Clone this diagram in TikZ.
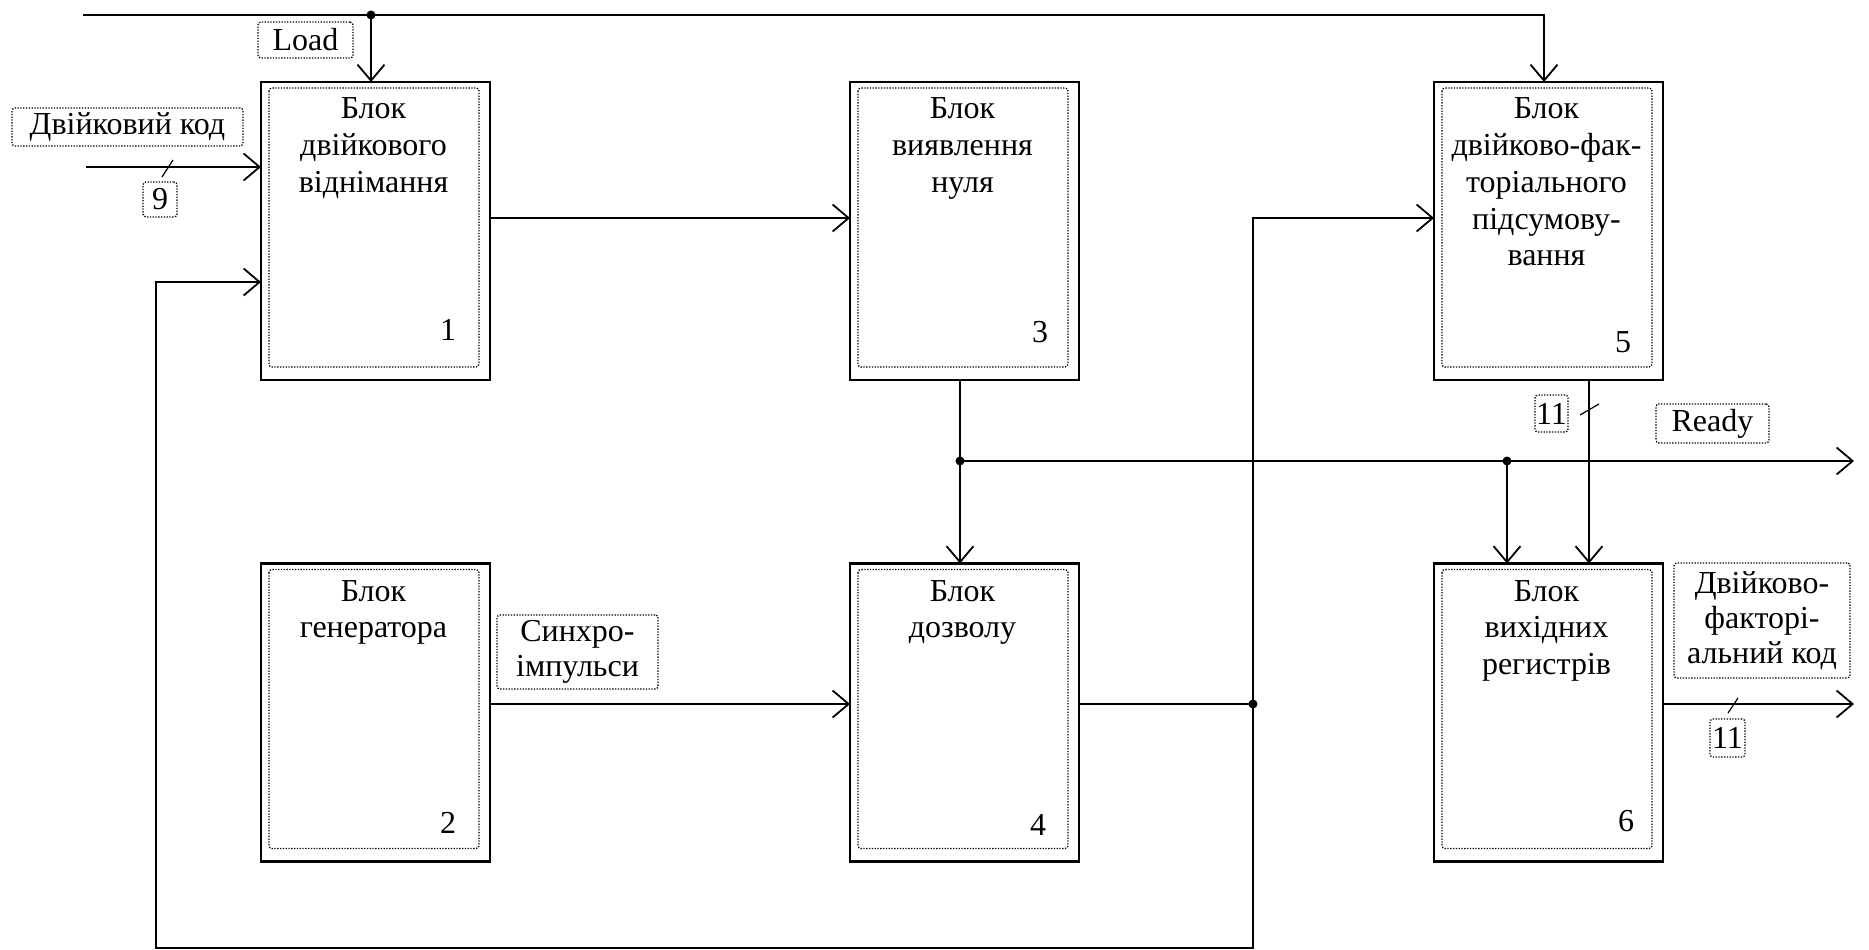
\documentclass[tikz,border=0pt]{standalone}
\usepackage{fontspec}
\setmainfont{Liberation Serif}
\usetikzlibrary{arrows.meta,calc}
\begin{document}
\begin{tikzpicture}[x=1pt,y=-1pt,
 line width=1.8pt,
 arw/.style={-{Straight Barb[length=16pt,width=27pt,line width=1.8pt]}},
 blk/.style={draw,line width=2.6pt,minimum width=229pt,minimum height=298pt,inner sep=0pt,outer sep=0pt},
 innerbox/.style={draw,line width=1.3pt,dash pattern=on 1.3pt off 1.5pt,rounded corners=3pt},
 btext/.style={font=\fontsize{32}{36.8}\selectfont,align=center,anchor=north,inner sep=0pt},
 blknum/.style={font=\fontsize{32}{36.8}\selectfont,anchor=base,inner sep=0pt},
 lbl/.style={draw,line width=1.3pt,dash pattern=on 1.3pt off 1.5pt,rounded corners=3pt,inner sep=0pt,font=\fontsize{32}{35}\selectfont,align=center},
 jdot/.style={circle,fill,inner sep=0pt,minimum size=9pt},
 busmark/.style={line width=1.2pt}]
\useasboundingbox (0,0) rectangle (1869,950);

% blocks
\node[blk] (b1) at (375.5,231) {};
\node[blk] (b3) at (964.5,231) {};
\node[blk] (b5) at (1548.5,231) {};
\node[blk] (b2) at (375.5,712.5) {};
\node[blk] (b4) at (964.5,712.5) {};
\node[blk] (b6) at (1548.5,712.5) {};

\foreach \b in {b1,b2,b3,b4,b5,b6}{
  \draw[innerbox] ($(\b.north west)+(8,6)$) rectangle ($(\b.south east)+(-11,-13)$);
}

% block texts
\node[btext] (t1) at ($(b1.north)+(-2,10)$) {\strut Блок\\двійкового\\віднімання};
\node[btext] (t3) at ($(b3.north)+(-2,10)$) {\strut Блок\\виявлення\\нуля};
\node[btext] (t5) at ($(b5.north)+(-2,10)$) {\strut Блок\\двійково-фак-\\торіального\\підсумову-\\вання};
\node[btext] (t2) at ($(b2.north)+(-2,11)$) {\strut Блок\\генератора};
\node[btext] (t4) at ($(b4.north)+(-2,11)$) {\strut Блок\\дозволу};
\node[btext] (t6) at ($(b6.north)+(-2,11)$) {\strut Блок\\вихідних\\регистрів};

% block numbers
\node[blknum] (n1) at (448,340) {1};
\node[blknum] (n3) at (1040,342) {3};
\node[blknum] (n5) at (1623,352) {5};
\node[blknum] (n2) at (448,833) {2};
\node[blknum] (n4) at (1038,835) {4};
\node[blknum] (n6) at (1626,831) {6};

% labels
\node[lbl,minimum width=95pt,minimum height=36pt] (lload) at (305.5,40) {Load};
\node[lbl,minimum width=231pt,minimum height=38pt] (lbin) at (127.5,127) {Двійковий код};
\node[lbl,minimum width=34pt,minimum height=35pt] (l9) at (160,199.5) {9};
\node[lbl,minimum width=161pt,minimum height=74pt] (lsync) at (577.5,652) {Синхро-\\імпульси};
\node[lbl,minimum width=33pt,minimum height=37pt] (l11a) at (1551.5,413.5) {11};
\node[lbl,minimum width=113pt,minimum height=39pt] (lready) at (1712.5,423.5) {Ready};
\node[lbl,minimum width=176pt,minimum height=115pt] (lout) at (1762,620.5) {Двійково-\\факторі-\\альний код};
\node[lbl,minimum width=35pt,minimum height=38pt] (l11b) at (1727.5,738) {11};

% helper coordinates
\coordinate (tin) at (83,15);
\coordinate (tj) at (371,15);
\coordinate (tr) at (1544,15);
\coordinate (bin) at (86,167);
\coordinate (y218) at (0,218);
\coordinate (y704) at (0,704);
\coordinate (x960) at (960,0);
\coordinate (x1589) at (1589,0);
\coordinate (j3) at (960,461);
\coordinate (j6) at (1507,461);
\coordinate (rdy) at (1854,461);
\coordinate (j4) at (1253,704);
\coordinate (c5in) at (1253,218);
\coordinate (fbB) at (1253,948);
\coordinate (fbL) at (156,282);
\coordinate (cout) at (1854,704);

% Load line
\draw[arw] (tin) -- (tr) -- (tr |- b5.north);
\draw[arw] (tj) -- (tj |- b1.north);
\node[jdot] at (tj) {};

% binary code input
\draw[arw] (bin) -- (bin -| b1.west);
\draw[busmark] (162,177) -- (173,160);

% block 1 -> block 3
\draw[arw] (b1.east |- y218) -- (b3.west |- y218);

% block 3 -> block 4, Ready
\draw[arw] (x960 |- b3.south) -- (x960 |- b4.north);
\draw[arw] (j3) -- (rdy);
\node[jdot] at (j3) {};
\draw[arw] (j6) -- (j6 |- b6.north);
\node[jdot] at (j6) {};

% block 5 -> block 6
\draw[arw] (x1589 |- b5.south) -- (x1589 |- b6.north);
\draw[busmark] (1580,415) -- (1599,404);

% block 2 -> block 4
\draw[arw] (b2.east |- y704) -- (b4.west |- y704);

% block 4 -> junction -> block 5 and feedback
\draw (b4.east |- y704) -- (j4);
\draw[arw] (j4) -- (c5in) -- (c5in -| b5.west);
\draw[arw] (j4) -- (fbB) -| (fbL) -- (fbL -| b1.west);
\node[jdot] at (j4) {};

% block 6 output
\draw[arw] (b6.east |- y704) -- (cout);
\draw[busmark] (1728,713) -- (1738,698);
\end{tikzpicture}
\end{document}
